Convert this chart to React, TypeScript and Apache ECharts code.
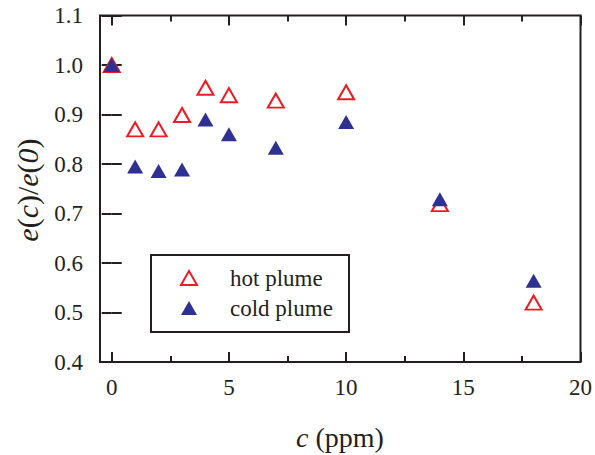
import React, { useEffect, useRef } from "react";
import * as echarts from "echarts";

const concentrations = [0, 1, 2, 3, 4, 5, 7, 10, 14, 18];
const hotPlume = [1.0, 0.870, 0.870, 0.899, 0.954, 0.939, 0.928, 0.945, 0.719, 0.520];
const coldPlume = [1.0, 0.795, 0.786, 0.789, 0.890, 0.860, 0.833, 0.885, 0.729, 0.564];
const xMajorTicks = [0, 5, 10, 15, 20];
const xMinorTicks = [2.5, 7.5, 12.5, 17.5];
const seriesNames = ["hot plume", "cold plume"];

const FONT = "'Liberation Serif', 'Times New Roman', serif";
const INK = "#231f20";
const RED = "#ed1c24";
const BLUE = "#2e3192";

export default function App() {
  const ref = useRef<HTMLDivElement>(null);

  useEffect(() => {
    document.body.style.margin = "0";
    const chart = echarts.init(ref.current!, null, { renderer: "svg" });

    const baseX = (pos: "bottom" | "top", ticks: number[], len: number, labels: boolean) => ({
      type: "value",
      position: pos,
      min: -0.5,
      max: 20,
      axisLine: { show: false },
      splitLine: { show: false },
      axisTick: {
        show: true,
        inside: true,
        length: len,
        customValues: ticks,
        lineStyle: { color: INK, width: 2 },
      },
      axisLabel: labels
        ? {
            show: true,
            customValues: ticks,
            fontSize: 23,
            fontFamily: FONT,
            color: INK,
            margin: 14,
          }
        : { show: false },
    });

    const baseY = (pos: "left" | "right", labels: boolean) => ({
      type: "value",
      position: pos,
      min: 0.4,
      max: 1.1,
      interval: 0.1,
      axisLine: { show: false },
      splitLine: { show: false },
      axisTick: {
        show: true,
        inside: true,
        length: 10,
        lineStyle: { color: INK, width: 2 },
      },
      axisLabel: labels
        ? {
            show: true,
            fontSize: 23,
            fontFamily: FONT,
            color: INK,
            margin: 17,
            formatter: (v: number) => v.toFixed(1),
          }
        : { show: false },
    });

    chart.setOption({
      animation: false,
      backgroundColor: "#ffffff",
      grid: {
        left: 100,
        right: 14,
        top: 15.5,
        bottom: 93,
        show: true,
        borderColor: INK,
        borderWidth: 2,
        backgroundColor: "transparent",
      },
      xAxis: [
        baseX("bottom", xMajorTicks, 10, true),
        baseX("bottom", xMinorTicks, 6, false),
        baseX("top", xMajorTicks, 10, false),
        baseX("top", xMinorTicks, 6, false),
      ],
      yAxis: [baseY("left", true), baseY("right", false)],
      legend: {
        show: true,
        orient: "vertical",
        left: 180,
        top: 266,
        padding: 0,
        itemWidth: 16,
        itemHeight: 14,
        itemGap: 6,
        data: seriesNames,
        textStyle: {
          fontSize: 23,
          lineHeight: 24,
          fontFamily: FONT,
          color: INK,
          padding: [0, 0, 0, 28],
        },
      },
      graphic: [
        {
          type: "rect",
          shape: { x: 151, y: 255, width: 198, height: 77 },
          style: { fill: "none", stroke: INK, lineWidth: 2 },
          z: 10,
        },
        {
          type: "text",
          x: 27,
          y: 190,
          rotation: Math.PI / 2,
          style: {
            text: "{i|e}{n|(}{i|c}{n|)/}{i|e}{n|(}{i|0}{n|)}",
            align: "center",
            verticalAlign: "middle",
            rich: {
              i: { fontSize: 30, fontFamily: FONT, fontStyle: "italic", fill: INK },
              n: { fontSize: 30, fontFamily: FONT, fill: INK },
            },
          },
        },
        {
          type: "text",
          x: 340,
          y: 437,
          style: {
            text: "{i|c}{n|\u00a0(ppm)}",
            align: "center",
            verticalAlign: "middle",
            rich: {
              i: { fontSize: 28, lineHeight: 30, fontFamily: FONT, fontStyle: "italic", fill: INK },
              n: { fontSize: 28, lineHeight: 30, fontFamily: FONT, fill: INK },
            },
          },
        },
      ],
      series: [
        {
          name: seriesNames[0],
          type: "scatter",
          xAxisIndex: 0,
          yAxisIndex: 0,
          symbol: "triangle",
          symbolSize: [16, 14],
          itemStyle: { color: "#ffffff", borderColor: RED, borderWidth: 2, opacity: 1 },
          data: concentrations.map((c, i) => [c, hotPlume[i]]),
          z: 2,
        },
        {
          name: seriesNames[1],
          type: "scatter",
          xAxisIndex: 0,
          yAxisIndex: 0,
          symbol: "triangle",
          symbolSize: [16, 14],
          itemStyle: { color: BLUE, opacity: 1 },
          data: concentrations.map((c, i) => [c, coldPlume[i]]),
          z: 3,
        },
      ],
    });

    return () => chart.dispose();
  }, []);

  return (
    <div
      ref={ref}
      style={{ position: "fixed", left: 0, top: 0, width: 595, height: 455 }}
    />
  );
}
